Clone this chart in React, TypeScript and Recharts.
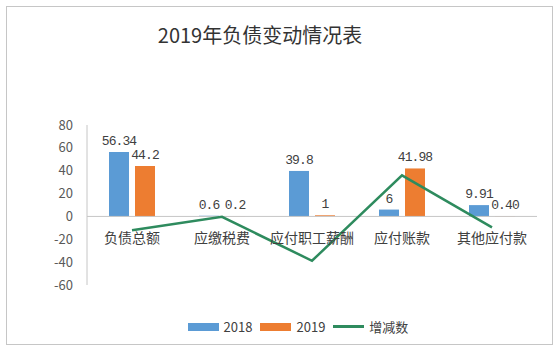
import React from 'react';
import {
  ComposedChart,
  Bar,
  Line,
  XAxis,
  YAxis,
  ReferenceLine,
  LabelList,
} from 'recharts';

const categories = ['负债总额', '应缴税费', '应付职工薪酬', '应付账款', '其他应付款'];
const values2018 = [56.34, 0.6, 39.8, 6, 9.91];
const values2019 = [44.2, 0.2, 1, 41.98, 0.4];
const labels2018 = ['56.34', '0.6', '39.8', '6', '9.91'];
const labels2019 = ['44.2', '0.2', '1', '41.98', '0.40'];
const changes = [-12.14, -0.4, -38.8, 35.98, -9.51];
const yTicks = [-60, -40, -20, 0, 20, 40, 60, 80];

const seriesNames = { a: '2018', b: '2019', c: '增减数' };
const colors = { a: '#5B9BD5', b: '#ED7D31', c: '#2E8B5E' };

const data = categories.map((name, i) => ({
  name,
  y2018: values2018[i],
  y2019: values2019[i],
  change: changes[i],
  l2018: labels2018[i],
  l2019: labels2019[i],
}));

// plot box, chosen to line up with the reference frame
const W = 560;
const H = 352;
const PLOT_TOP = 125;
const PLOT_BOTTOM = 285;
const PLOT_LEFT = 87;
const PLOT_RIGHT = 537;
const Y_MIN = yTicks[0];
const Y_MAX = yTicks[yTicks.length - 1];
const zeroY = PLOT_TOP + ((PLOT_BOTTOM - PLOT_TOP) * Y_MAX) / (Y_MAX - Y_MIN);

const cjk = '"Noto Sans CJK SC", "Noto Sans", sans-serif';
const mono = '"Liberation Mono", "DejaVu Sans Mono", monospace';

// category labels sit next to the zero line, like Excel does
const CategoryTick = ({ x, payload }: any) => (
  <text
    x={x}
    y={zeroY + 27}
    textAnchor="middle"
    fill="#404040"
    fontSize={14}
    fontFamily={cjk}
  >
    {payload.value}
  </text>
);

const legendItems = [
  { name: seriesNames.a, color: colors.a, type: 'bar' },
  { name: seriesNames.b, color: colors.b, type: 'bar' },
  { name: seriesNames.c, color: colors.c, type: 'line' },
];

const labelStyle = {
  fill: '#404040',
  fontSize: 13,
  fontFamily: mono,
  letterSpacing: '-0.9px',
};

export default function App() {
  return (
    <div
      style={{
        position: 'absolute',
        left: 0,
        top: 0,
        width: W,
        height: H,
        background: '#fff',
      }}
    >
      <div
        style={{
          position: 'absolute',
          left: 6,
          top: 6,
          width: 545,
          height: 337,
          border: '1px solid #C6C6C6',
        }}
      />
      <div
        style={{
          position: 'absolute',
          left: 0,
          top: 21,
          width: 520,
          textAlign: 'center',
          fontFamily: cjk,
          fontSize: 20,
          color: '#333',
          lineHeight: '28px',
        }}
      >
        2019年负债变动情况表
      </div>
      <div style={{ position: 'absolute', left: 0, top: 0 }}>
        <ComposedChart
          width={W}
          height={H}
          data={data}
          barSize={20}
          barGap={6}
          margin={{
            top: PLOT_TOP,
            right: W - PLOT_RIGHT,
            bottom: H - PLOT_BOTTOM - 30,
            left: PLOT_LEFT - 60,
          }}
        >
          <XAxis
            dataKey="name"
            axisLine={false}
            tickLine={false}
            height={30}
            interval={0}
            tick={<CategoryTick />}
          />
          <YAxis
            width={60}
            domain={[Y_MIN, Y_MAX]}
            ticks={yTicks}
            interval={0}
            tickLine={false}
            tickMargin={8}
            axisLine={{ stroke: '#C6C6C6' }}
            tick={{ fill: '#595959', fontSize: 13, fontFamily: cjk }}
          />
          <ReferenceLine y={0} stroke="#C6C6C6" strokeWidth={1} />
          <Bar dataKey="y2018" name={seriesNames.a} fill={colors.a} isAnimationActive={false}>
            <LabelList dataKey="l2018" position="top" offset={7} {...labelStyle} />
          </Bar>
          <Bar dataKey="y2019" name={seriesNames.b} fill={colors.b} isAnimationActive={false}>
            <LabelList dataKey="l2019" position="top" offset={7} {...labelStyle} />
          </Bar>
          <Line
            type="linear"
            dataKey="change"
            name={seriesNames.c}
            stroke={colors.c}
            strokeWidth={2.5}
            dot={false}
            isAnimationActive={false}
          />
        </ComposedChart>
      </div>
      <div
        style={{
          position: 'absolute',
          left: 0,
          top: 317,
          width: 596,
          display: 'flex',
          justifyContent: 'center',
          alignItems: 'center',
          fontFamily: cjk,
          fontSize: 13,
          color: '#404040',
          gap: 8,
        }}
      >
        {legendItems.map((it) => (
          <div key={it.name} style={{ display: 'flex', alignItems: 'center', gap: 5 }}>
            <span
              style={{
                display: 'inline-block',
                width: 31,
                height: it.type === 'bar' ? 8 : 3,
                background: it.color,
              }}
            />
            <span>{it.name}</span>
          </div>
        ))}
      </div>
    </div>
  );
}
